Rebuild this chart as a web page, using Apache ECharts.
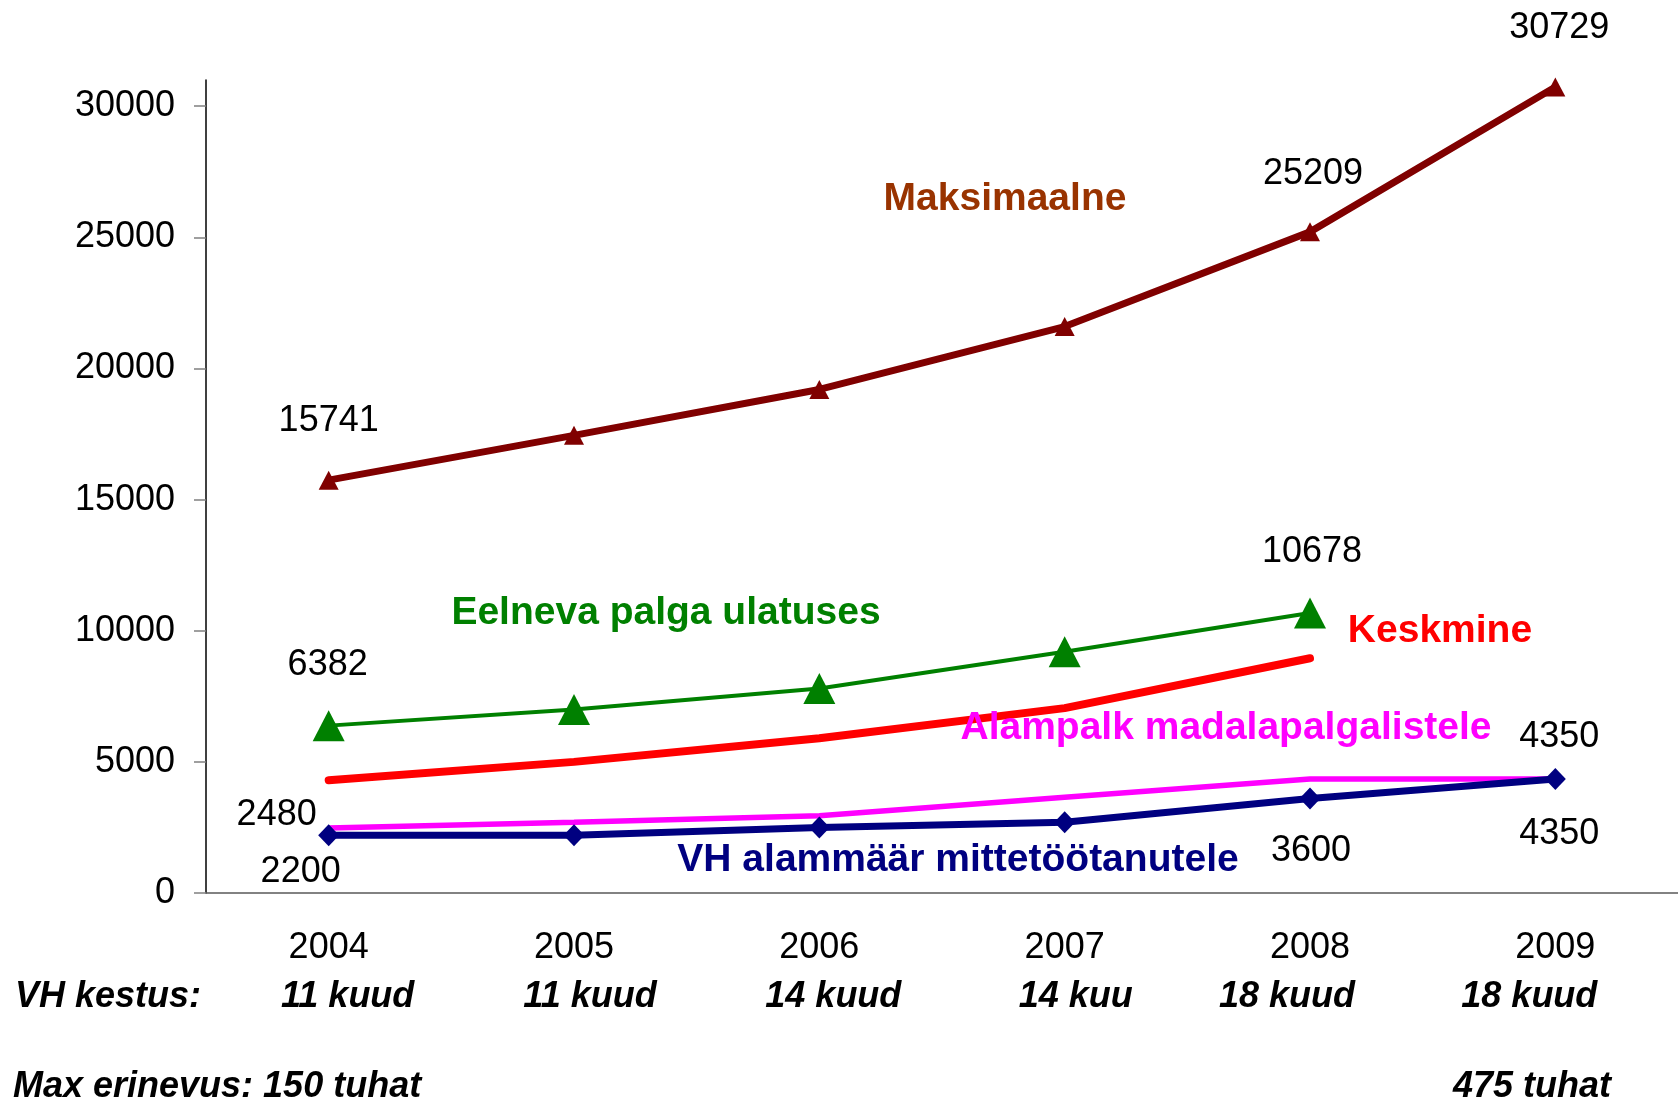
<!DOCTYPE html>
<html>
<head>
<meta charset="utf-8">
<title>Töötuskindlustushüvitis 2004-2009</title>
<script src="https://cdn.jsdelivr.net/npm/echarts@6/dist/echarts.min.js"></script>
<style>
  html, body { margin: 0; padding: 0; background: #fff; }
  #main { width: 1678px; height: 1104px; }
</style>
</head>
<body>
<div id="main"></div>
<script>
// andmed (loetud pildilt)
const years = ['2004', '2005', '2006', '2007', '2008', '2009']
const durations = ['11 kuud', '11 kuud', '14 kuud', '14 kuu', '18 kuud', '18 kuud']
const maksimaalne = [15741, 17450, 19200, 21600, 25209, 30729]
const eelneva = [6382, 7000, 7800, 9200, 10678, null]
const keskmine = [4300, 5000, 5900, 7050, 8950, null]
const alampalk = [2480, 2700, 2950, 3650, 4350, 4350]
const vhAlammaar = [2200, 2200, 2500, 2700, 3600, 4350]
const yTicks = [0, 5000, 10000, 15000, 20000, 25000, 30000]

const FONT = '"Liberation Sans", Arial, Helvetica, sans-serif'

// nihked kestuse tekstidele kategooria keskelt (px)
const durationShift = [19, 16, 14, 11, -23, -26]

// andmesildi seadistus
function lbl(dx, dy) {
  return {
    show: true,
    position: 'inside',
    offset: [dx, dy],
    color: '#000',
    fontFamily: FONT,
    fontSize: 36,
    formatter: '{c}'
  }
}
// lisab sildid ainult valitud punktidele
function withLabels(values, labels) {
  return values.map((v, i) => (labels[i] ? { value: v, label: labels[i] } : v))
}

const chart = echarts.init(document.getElementById('main'))

const option = {
  animation: false,
  backgroundColor: '#fff',
  grid: { left: 206, top: 80, width: 1480, bottom: 211, containLabel: false },
  xAxis: {
    type: 'category',
    data: years,
    boundaryGap: true,
    axisLine: { lineStyle: { color: '#595959', width: 1.5 } },
    axisTick: { length: 12, lineStyle: { color: '#595959', width: 1 } },
    axisLabel: {
      margin: 55,
      verticalAlign: 'middle',
      color: '#000',
      fontFamily: FONT,
      fontSize: 36
    },
    splitLine: { show: false }
  },
  yAxis: {
    type: 'value',
    min: 0,
    max: 31000,
    interval: 5000,
    axisLine: { show: true, lineStyle: { color: '#000', width: 1.5 } },
    axisTick: { show: true, length: 12, customValues: yTicks, lineStyle: { color: '#808080', width: 1.5 } },
    axisLabel: {
      margin: 31,
      customValues: yTicks,
      color: '#000',
      fontFamily: FONT,
      fontSize: 36,
      formatter: v => (yTicks.includes(v) ? String(v) : '')
    },
    splitLine: { show: false }
  },
  series: [
    {
      name: 'Maksimaalne',
      type: 'line',
      data: withLabels(maksimaalne, { 0: lbl(0, -59), 4: lbl(3, -58), 5: lbl(4, -59) }),
      lineStyle: { color: '#800000', width: 7 },
      itemStyle: { color: '#800000' },
      symbol: 'triangle',
      symbolSize: [20, 19],
      z: 3
    },
    {
      name: 'Eelneva palga ulatuses',
      type: 'line',
      data: withLabels(eelneva, { 0: lbl(-1, -61), 4: lbl(2, -61) }),
      lineStyle: { color: '#008000', width: 4 },
      itemStyle: { color: '#008000' },
      symbol: 'triangle',
      symbolSize: [32, 31],
      z: 3
    },
    {
      name: 'Keskmine',
      type: 'line',
      data: keskmine,
      lineStyle: { color: '#ff0000', width: 8, cap: 'round' },
      itemStyle: { color: '#ff0000' },
      symbol: 'none',
      z: 3
    },
    {
      name: 'Alampalk madalapalgalistele',
      type: 'line',
      data: withLabels(alampalk, { 0: lbl(-52, -13), 5: lbl(4, -42) }),
      lineStyle: { color: '#ff00ff', width: 5.5 },
      itemStyle: { color: '#ff00ff' },
      symbol: 'circle',
      symbolSize: 0.1,
      z: 3
    },
    {
      name: 'VH alammäär mittetöötanutele',
      type: 'line',
      data: withLabels(vhAlammaar, { 0: lbl(-28, 37), 4: lbl(1, 52), 5: lbl(4, 55) }),
      lineStyle: { color: '#000080', width: 7 },
      itemStyle: { color: '#000080' },
      symbol: 'diamond',
      symbolSize: [21, 22],
      z: 4
    }
  ]
}

chart.setOption(option)

// tekstid nagu slaidil: sarjade nimed ja kestused
function txt(text, x, y, color, font, align) {
  return {
    type: 'text',
    x: x,
    y: y,
    z: 10,
    style: {
      text: text,
      fill: color,
      font: font,
      align: align || 'center',
      verticalAlign: 'middle',
      textAlign: align || 'center',
      textVerticalAlign: 'middle'
    }
  }
}

const nameFont = 'bold 39px ' + FONT
const boldItalic = 'italic bold 36px ' + FONT

const graphics = [
  txt('Maksimaalne', 1005, 199, '#993300', nameFont),
  txt('Eelneva palga ulatuses', 666, 613, '#008000', nameFont),
  txt('Keskmine', 1440, 631, '#ff0000', nameFont),
  txt('Alampalk madalapalgalistele', 1226, 728, '#ff00ff', nameFont),
  txt('VH alammäär mittetöötanutele', 958, 860, '#000080', nameFont),
  txt('VH kestus:', 15, 997, '#000', boldItalic, 'left'),
  txt('Max erinevus: 150 tuhat', 13, 1087, '#000', boldItalic, 'left'),
  txt('475 tuhat', 1532, 1087, '#000', boldItalic)
]

durations.forEach((d, i) => {
  const cx = chart.convertToPixel({ xAxisIndex: 0 }, years[i])
  graphics.push(txt(d, cx + durationShift[i], 997, '#000', boldItalic))
})

chart.setOption({ graphic: graphics })
</script>
</body>
</html>
